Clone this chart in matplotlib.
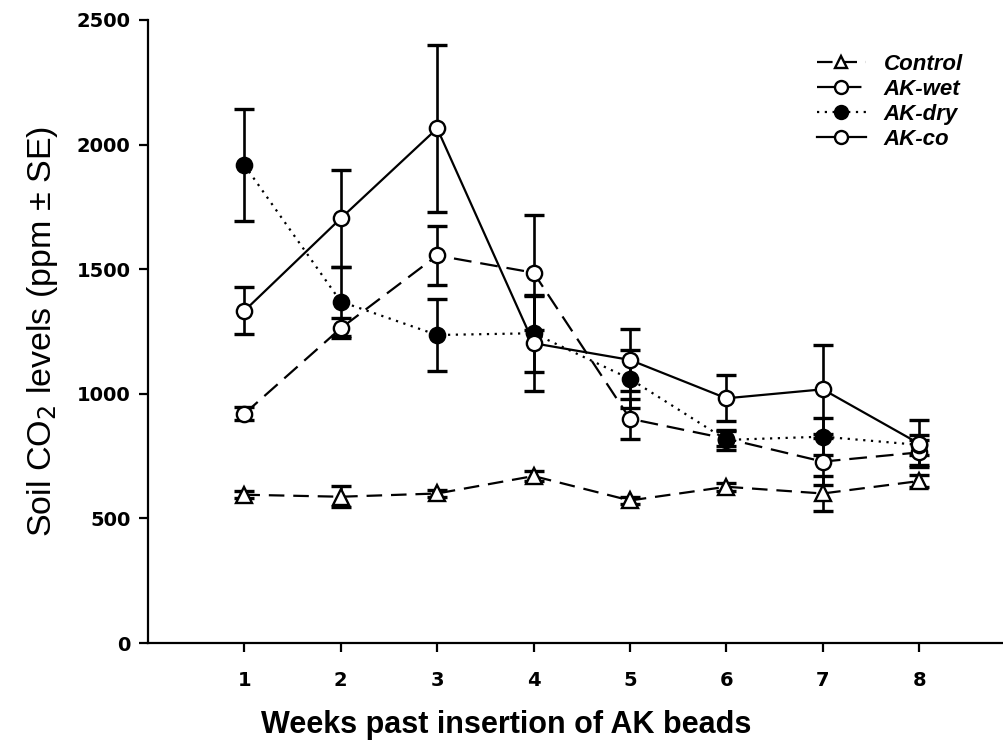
import matplotlib

matplotlib.use("Agg")
import matplotlib.pyplot as plt

plt.rcParams["font.family"] = ["Liberation Sans", "DejaVu Sans"]

weeks = [1, 2, 3, 4, 5, 6, 7, 8]

control = [595, 587, 600, 670, 572, 627, 600, 650]
control_se = [15, 42, 15, 20, 15, 15, 72, 25]

ak_wet = [920, 1263, 1555, 1486, 900, 820, 728, 765]
ak_wet_se = [27, 40, 117, 231, 80, 30, 94, 50]

ak_dry = [1918, 1370, 1236, 1243, 1060, 815, 828, 795]
ak_dry_se = [225, 140, 146, 154, 117, 40, 74, 40]

ak_co = [1333, 1704, 2065, 1203, 1136, 982, 1018, 800]
ak_co_se = [95, 195, 335, 190, 123, 93, 178, 95]

series = [
    ("Control", control, control_se, dict(linestyle=(0, (7, 4)), marker="^", mfc="white")),
    ("AK-wet", ak_wet, ak_wet_se, dict(linestyle=(0, (8, 4)), marker="o", mfc="white")),
    ("AK-dry", ak_dry, ak_dry_se, dict(linestyle=(0, (1, 2.5)), marker="o", mfc="black")),
    ("AK-co", ak_co, ak_co_se, dict(linestyle="-", marker="o", mfc="white")),
]

fig = plt.figure(figsize=(10.04, 7.49), dpi=100)
ax = fig.add_axes([0.1474, 0.1415, 0.8526, 0.8318])

handles = []
for i, (name, vals, se, style) in enumerate(series):
    ax.errorbar(weeks, vals, yerr=se, fmt="none", ecolor="black", elinewidth=1.9,
                capsize=7.5, capthick=2.4, zorder=2 + i)
    line, = ax.plot(weeks, vals, color="black", linewidth=1.6, markersize=11,
                    markeredgewidth=1.7, markeredgecolor="black", zorder=6 + i,
                    label=name, **style)
    handles.append(line)

ax.set_xlim(0, 8.88)
ax.set_ylim(0, 2500)
ax.set_xticks(weeks)
ax.set_yticks([0, 500, 1000, 1500, 2000, 2500])
ax.tick_params(direction="out", length=6.5, width=1.6)
ax.tick_params(axis="x", pad=14)
ax.tick_params(axis="y", pad=6)
# heavy, wide digits for the tick labels
for lab in ax.get_xticklabels() + ax.get_yticklabels():
    lab.set_fontfamily("DejaVu Sans")
    lab.set_fontweight("bold")
    lab.set_fontsize(14)
ax.spines[["top", "right"]].set_visible(False)
ax.spines[["left", "bottom"]].set_linewidth(1.6)

ax.set_xlabel("Weeks past insertion of AK beads", fontsize=22, fontweight="bold")
ax.xaxis.set_label_coords(0.419, -0.108)
ax.set_ylabel("Soil CO$_2$ levels (ppm ± SE)", fontsize=24.5, labelpad=12)

leg = ax.legend(handles=handles, loc="upper right", bbox_to_anchor=(0.975, 0.978),
                frameon=False, handlelength=2.2, handletextpad=0.8, labelspacing=0.18,
                markerscale=0.85, prop=dict(size=16, weight="bold", style="italic"))

fig.savefig("out.png", dpi=100)
